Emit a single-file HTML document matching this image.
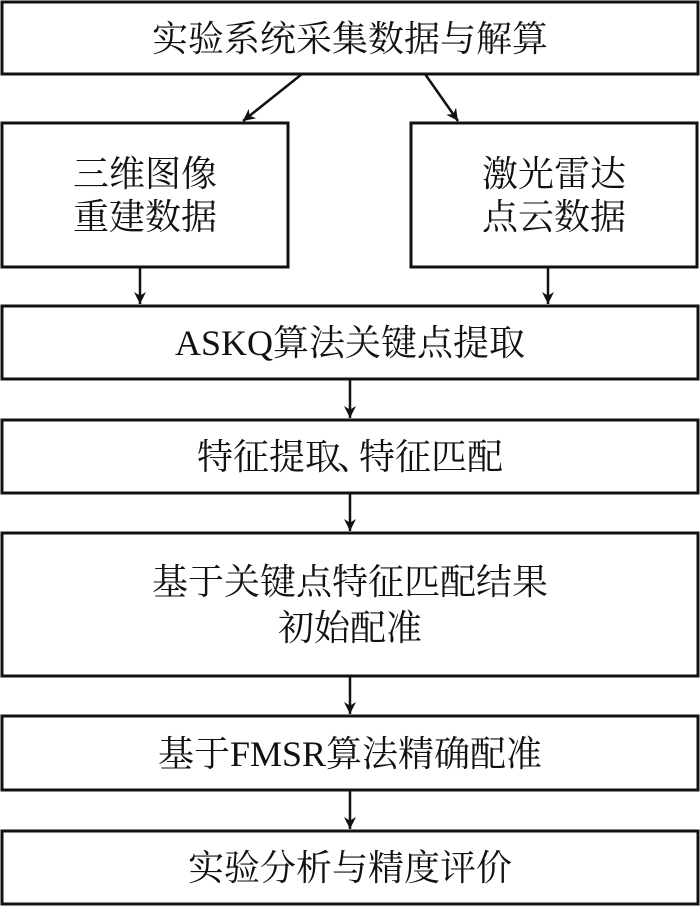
<!DOCTYPE html>
<html><head><meta charset="utf-8"><style>
body{margin:0;background:#fff}
text{font-family:"Liberation Serif","Noto Serif CJK SC",serif;font-size:36px;fill:#111}
</style></head><body>
<svg width="700" height="906" viewBox="0 0 700 906" xmlns="http://www.w3.org/2000/svg">
<defs><marker id="a" viewBox="0 0 10 10" refX="10" refY="5" markerWidth="18" markerHeight="12" markerUnits="userSpaceOnUse" orient="auto"><path d="M0,0 L10,5 L0,10 L3,5z" fill="#111"/></marker></defs>
<g fill="none" stroke="#111" stroke-width="3">
<rect x="2" y="2" width="696" height="72"/>
<rect x="2" y="123" width="286" height="144"/>
<rect x="411" y="123" width="286" height="144"/>
<rect x="2" y="306" width="696" height="73"/>
<rect x="2" y="420" width="696" height="73"/>
<rect x="2" y="533" width="696" height="143"/>
<rect x="2" y="716" width="696" height="74"/>
<rect x="2" y="831" width="696" height="73"/>
</g>
<g stroke="#111" stroke-width="2.5" marker-end="url(#a)">
<line x1="302" y1="74" x2="243" y2="121"/>
<line x1="425" y1="74" x2="458" y2="121"/>
<line x1="140" y1="267" x2="140" y2="304"/>
<line x1="548" y1="267" x2="548" y2="304"/>
<line x1="350" y1="379" x2="350" y2="418"/>
<line x1="350" y1="493" x2="350" y2="531"/>
<line x1="350" y1="676" x2="350" y2="714"/>
<line x1="350" y1="790" x2="350" y2="829"/>
</g>
<g text-anchor="middle">
<text x="350" y="51">实验系统采集数据与解算</text>
<text x="145" y="186">三维图像</text>
<text x="145" y="229">重建数据</text>
<text x="554" y="186">激光雷达</text>
<text x="554" y="229">点云数据</text>
<text x="350" y="355">ASKQ算法关键点提取</text>
<text x="350" y="469">特征提取<tspan dx="-4">、</tspan><tspan dx="-14">特征匹配</tspan></text>
<text x="350" y="594">基于关键点特征匹配结果</text>
<text x="350" y="640">初始配准</text>
<text x="350" y="766">基于FMSR算法精确配准</text>
<text x="350" y="880">实验分析与精度评价</text>
</g>
</svg>
</body></html>
